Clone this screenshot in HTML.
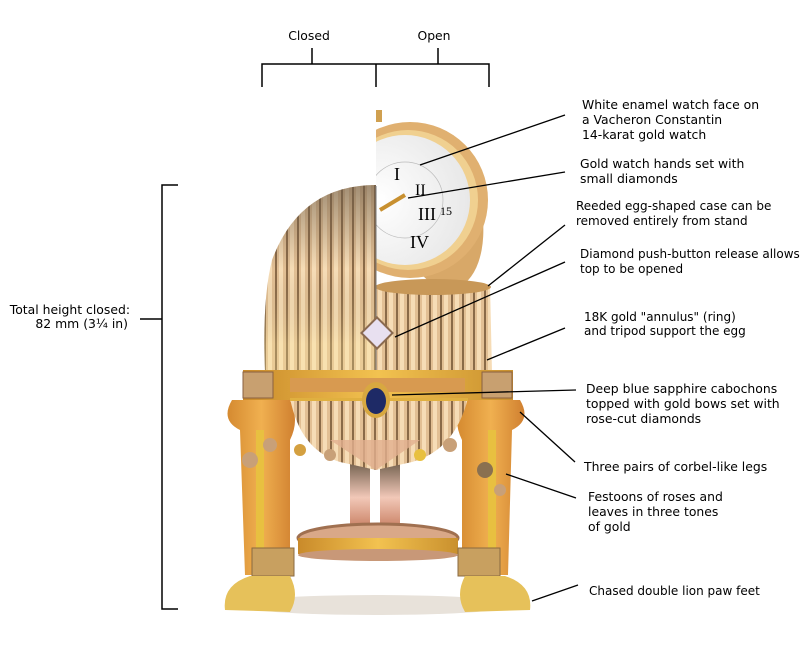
<!DOCTYPE html>
<html><head><meta charset="utf-8"><style>
html,body{margin:0;padding:0;background:#fff;}
svg{display:block;}
text{font-family:"DejaVu Sans","Liberation Sans",sans-serif;font-size:12.4px;fill:#000;}
</style></head><body>
<svg width="800" height="665" viewBox="0 0 800 665" xmlns="http://www.w3.org/2000/svg">
<defs>
<linearGradient id="yel" x1="0" x2="1"><stop offset="0" stop-color="#c98a2a"/><stop offset=".5" stop-color="#f2c250"/><stop offset="1" stop-color="#c9902e"/></linearGradient>
<linearGradient id="orange" x1="0" x2="1"><stop offset="0" stop-color="#d58a30"/><stop offset=".5" stop-color="#f0b050"/><stop offset="1" stop-color="#d08030"/></linearGradient>
<linearGradient id="pillar" x1="0" x2="0" y1="0" y2="1"><stop offset="0" stop-color="#6a5a48"/><stop offset=".5" stop-color="#f2c8b8"/><stop offset="1" stop-color="#c07050"/></linearGradient>
<radialGradient id="face" cx=".3" cy=".5" r=".7"><stop offset="0" stop-color="#fff"/><stop offset="1" stop-color="#e8e8e8"/></radialGradient>
<pattern id="reed" width="11" height="10" patternUnits="userSpaceOnUse"><rect width="11" height="10" fill="#e2bf94"/><rect x="0" width="2" height="10" fill="#8a6a48"/><rect x="4" width="4" height="10" fill="#f6dcb6"/></pattern>
<linearGradient id="shade" x1="0" x2="0" y1="0" y2="1"><stop offset="0" stop-color="#6a5a48" stop-opacity=".6"/><stop offset=".45" stop-color="#6a5a48" stop-opacity="0"/><stop offset=".85" stop-color="#fff0a0" stop-opacity=".25"/></linearGradient>
<clipPath id="rightHalf"><rect x="376" y="0" width="200" height="700"/></clipPath>
<clipPath id="leftHalf"><rect x="0" y="0" width="376" height="700"/></clipPath>
</defs>

<g stroke="#000" stroke-width="1.5" fill="none">
<path d="M262 87 V64 H489 V87"/><path d="M376 64 V87"/><path d="M312 64 V48"/><path d="M438 64 V48"/>
<path d="M178 185 H162 V609 H178"/><path d="M140 319 H162"/>
</g>
<text x="309" y="40" text-anchor="middle">Closed</text>
<text x="434" y="40" text-anchor="middle">Open</text>
<text x="130" y="314" text-anchor="end">Total height closed:</text>
<text x="128" y="328" text-anchor="end">82 mm (3¼  in)</text>

<ellipse cx="376" cy="605" rx="140" ry="10" fill="#e8e2da"/>
<rect x="350" y="460" width="20" height="75" fill="url(#pillar)"/>
<rect x="380" y="460" width="20" height="75" fill="url(#pillar)"/>
<ellipse cx="378" cy="538" rx="80" ry="14" fill="#d9a888" stroke="#a07050" stroke-width="3"/>
<rect x="298" y="538" width="160" height="16" fill="url(#yel)"/>
<ellipse cx="378" cy="555" rx="80" ry="6" fill="#c89878"/>

<!-- legs -->
<path d="M232 400 Q220 420 240 430 L245 575 L290 575 L290 440 Q300 420 290 400 Z" fill="url(#orange)"/>
<path d="M520 400 Q532 420 512 430 L508 575 L462 575 L462 440 Q452 420 462 400 Z" fill="url(#orange)"/>
<rect x="256" y="430" width="8" height="120" fill="#e8c040"/>
<rect x="488" y="430" width="8" height="120" fill="#e8c040"/>
<rect x="252" y="548" width="42" height="28" fill="#c8a060" stroke="#8a6a40"/>
<rect x="458" y="548" width="42" height="28" fill="#c8a060" stroke="#8a6a40"/>
<path d="M225 610 Q222 585 250 576 L290 576 Q300 595 290 612 Z" fill="#e6c15a"/>
<path d="M530 610 Q533 585 505 576 L465 576 Q455 595 465 612 Z" fill="#e6c15a"/>

<!-- watch -->
<g clip-path="url(#rightHalf)">
<rect x="372" y="110" width="10" height="12" fill="#d0a050"/>
<ellipse cx="440" cy="215" rx="42" ry="75" fill="#d8a868" transform="rotate(-10 440 215)"/>
<circle cx="410" cy="200" r="78" fill="#e0b070"/>
<circle cx="408" cy="200" r="70" fill="#f0d090"/>
<circle cx="405" cy="200" r="65" fill="url(#face)"/>
<circle cx="405" cy="200" r="38" fill="none" stroke="#bbb" stroke-width=".7"/>
<text x="394" y="180" style="font-family:'Liberation Serif',serif;font-size:18px">I</text>
<text x="415" y="195" style="font-family:'Liberation Serif',serif;font-size:16px">II</text>
<text x="418" y="220" style="font-family:'Liberation Serif',serif;font-size:18px">III</text>
<text x="410" y="248" style="font-family:'Liberation Serif',serif;font-size:18px">IV</text>
<text x="440" y="215" style="font-family:'Liberation Serif',serif;font-size:12px">15</text>
<path d="M380 210 L405 195" stroke="#c89030" stroke-width="4"/>
<path d="M376 285 L490 285 L492 372 L376 372 Z" fill="url(#reed)"/>
<ellipse cx="433" cy="287" rx="58" ry="8" fill="#c89858"/>
</g>

<!-- closed egg left half -->
<g clip-path="url(#leftHalf)">
<path d="M376 185 Q300 185 272 260 Q262 300 265 372 L376 372 Z" fill="url(#reed)"/>
<path d="M376 185 Q300 185 272 260 Q262 300 265 372 L376 372 Z" fill="url(#shade)"/>
</g>
<path d="M376 186 V372" stroke="#777" stroke-width="1"/>
<rect x="366" y="322" width="22" height="22" fill="#e8e0f0" stroke="#8a6a50" stroke-width="2" transform="rotate(45 377 333)"/>

<!-- lower bowl -->
<path d="M290 398 Q300 450 340 462 L376 470 L412 462 Q455 450 468 398 Z" fill="url(#reed)"/>
<path d="M330 440 L376 470 L420 440 Z" fill="#e2b090" opacity=".8"/>
<g fill="#c8a078">
<circle cx="250" cy="460" r="8"/><circle cx="270" cy="445" r="7"/><circle cx="300" cy="450" r="6" fill="#d4a040"/><circle cx="330" cy="455" r="6"/><circle cx="420" cy="455" r="6" fill="#e8c040"/><circle cx="450" cy="445" r="7"/><circle cx="485" cy="470" r="8" fill="#8a7050"/><circle cx="500" cy="490" r="6"/>
</g>

<!-- band -->
<rect x="243" y="370" width="270" height="30" fill="url(#yel)"/>
<rect x="290" y="378" width="175" height="14" fill="#d89a50"/>
<rect x="243" y="372" width="30" height="26" fill="#c8a070" stroke="#8a6040"/>
<rect x="482" y="372" width="30" height="26" fill="#c8a070" stroke="#8a6040"/>
<rect x="290" y="398" width="178" height="3" fill="#e0b040"/>
<ellipse cx="376" cy="400" rx="14" ry="18" fill="#d8a840"/>
<ellipse cx="376" cy="401" rx="10" ry="13" fill="#1e2a66"/>

<g stroke="#000" stroke-width="1.3">
<line x1="565" y1="115" x2="420" y2="165"/>
<line x1="565" y1="172" x2="408" y2="198"/>
<line x1="565" y1="225" x2="488" y2="286"/>
<line x1="565" y1="262" x2="395" y2="337"/>
<line x1="565" y1="328" x2="487" y2="360"/>
<line x1="576" y1="390" x2="392" y2="395"/>
<line x1="575" y1="462" x2="520" y2="412"/>
<line x1="576" y1="498" x2="506" y2="474"/>
<line x1="578" y1="585" x2="532" y2="601"/>
</g>

<text x="582" y="109">White enamel watch face on</text>
<text x="582" y="124">a Vacheron Constantin</text>
<text x="582" y="139">14-karat gold watch</text>
<text x="580" y="168">Gold watch hands set with</text>
<text x="580" y="183">small diamonds</text>
<text x="576" y="210" style="font-size:12px">Reeded egg-shaped case can be</text>
<text x="576" y="225" style="font-size:12px">removed entirely from stand</text>
<text x="580" y="258" style="font-size:12px">Diamond push-button release allows</text>
<text x="580" y="273" style="font-size:12px">top to be opened</text>
<text x="584" y="321" style="font-size:12px">18K gold "annulus" (ring)</text>
<text x="584" y="335" style="font-size:12px">and tripod support the egg</text>
<text x="586" y="393">Deep blue sapphire cabochons</text>
<text x="586" y="408">topped with gold bows set with</text>
<text x="586" y="423">rose-cut diamonds</text>
<text x="584" y="471">Three pairs of corbel-like legs</text>
<text x="588" y="501">Festoons of roses and</text>
<text x="588" y="516">leaves in three tones</text>
<text x="588" y="531">of gold</text>
<text x="589" y="595" style="font-size:12px">Chased double lion paw feet</text>
</svg>
</body></html>
